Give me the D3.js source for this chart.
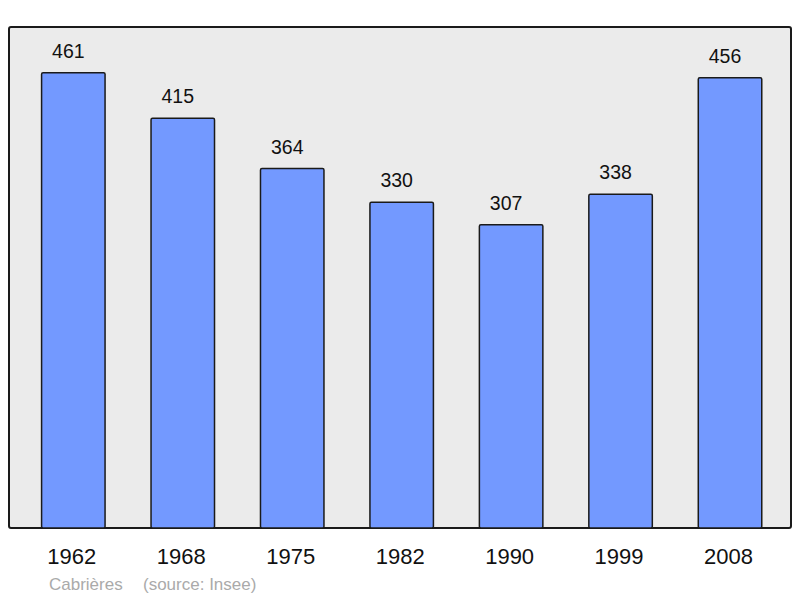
<!DOCTYPE html>
<html><head><meta charset="utf-8">
<script src="https://cdn.jsdelivr.net/npm/d3@7"></script>
<style>body{margin:0;background:#fff}svg{display:block}</style>
</head><body>
<script>
const years = ["1962","1968","1975","1982","1990","1999","2008"];
const population = [461,415,364,330,307,338,456];
const title = "Cabrières";
const source = "(source: Insee)";

const W = 800, H = 598;
const svg = d3.select("body").append("svg").attr("width", W).attr("height", H);

svg.append("rect").attr("x", 9).attr("y", 27).attr("width", 782).attr("height", 501)
  .attr("rx", 2).attr("fill", "#ebebeb").attr("stroke", "#1a1a1a").attr("stroke-width", 2);

const x = d3.scaleBand().domain(years).range([18.6, 784.75]).paddingInner(0.42).paddingOuter(0.21);
const y = d3.scaleLinear().domain([0, 507.4]).range([528, 27]);

svg.selectAll("rect.bar").data(years).join("rect").attr("class","bar")
  .attr("x", d => x(d)).attr("width", x.bandwidth())
  .attr("y", (d,i) => y(population[i])).attr("height", (d,i) => y(0) - y(population[i]))
  .attr("rx", 1.5)
  .attr("fill", "#7399ff").attr("stroke", "#1a1a1a").attr("stroke-width", 1.5);

svg.selectAll("text.val").data(years).join("text").attr("class","val")
  .attr("x", d => x(d) + x.bandwidth()/2 - 5)
  .attr("y", (d,i) => y(population[i]) - 15)
  .attr("text-anchor","middle").attr("font-family","Liberation Sans, Arial, sans-serif")
  .attr("font-size", 19.5).attr("fill","#111").text((d,i) => population[i]);

const xAxis = svg.append("g").attr("transform", "translate(0,528)")
  .call(d3.axisBottom(x).tickSize(0).tickPadding(0));
xAxis.select(".domain").remove();
xAxis.selectAll("text").attr("dy", null).attr("y", 36).attr("dx", -1.5)
  .attr("font-family","Liberation Sans, Arial, sans-serif").attr("font-size", 22).attr("fill","#111");

svg.append("text").attr("x", 49).attr("y", 590).attr("font-family","Liberation Sans, Arial, sans-serif")
  .attr("font-size", 17).attr("fill","#aaaaaa").text(title);
svg.append("text").attr("x", 143).attr("y", 590).attr("font-family","Liberation Sans, Arial, sans-serif")
  .attr("font-size", 17).attr("fill","#aaaaaa").text(source);
</script>
</body></html>
